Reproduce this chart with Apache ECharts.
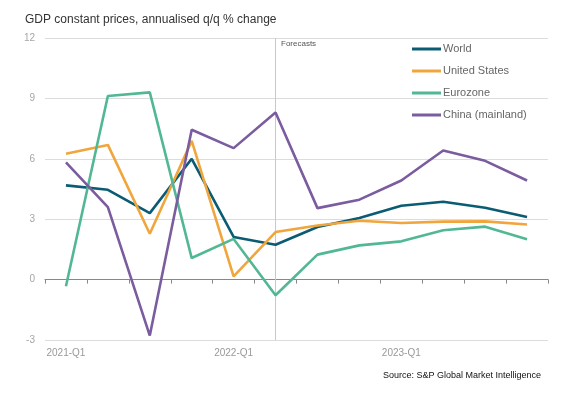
<!DOCTYPE html>
<html>
<head>
<meta charset="utf-8">
<script src="https://cdn.jsdelivr.net/npm/echarts@6/dist/echarts.min.js"></script>
<style>
  html, body { margin: 0; padding: 0; background: #fff; }
  #chart { width: 577px; height: 397px; }
</style>
</head>
<body>
<div id="chart"></div>
<script>
// Quarters shown on the x axis
const quarters = ['2021-Q1', '2021-Q2', '2021-Q3', '2021-Q4',
                  '2022-Q1', '2022-Q2', '2022-Q3', '2022-Q4',
                  '2023-Q1', '2023-Q2', '2023-Q3', '2023-Q4'];

// Annualised q/q % change
const world    = [4.68, 4.46, 3.3, 6.0, 2.12, 1.73, 2.61, 3.06, 3.67, 3.87, 3.57, 3.11];
const us       = [6.25, 6.69, 2.28, 6.89, 0.16, 2.36, 2.69, 2.92, 2.81, 2.88, 2.89, 2.74];
const eurozone = [-0.33, 9.12, 9.3, 1.07, 2.02, -0.78, 1.24, 1.7, 1.9, 2.45, 2.63, 2.0];
const china    = [5.82, 3.6, -2.78, 7.44, 6.53, 8.3, 3.55, 3.97, 4.92, 6.41, 5.9, 4.92];

const forecastStart = '2022-Q2';

const seriesDefs = [
    { name: 'World', data: world, color: '#0a5c73' },
    { name: 'United States', data: us, color: '#f0a63c' },
    { name: 'Eurozone', data: eurozone, color: '#52b894' },
    { name: 'China (mainland)', data: china, color: '#7a5c9f' }
];

const chart = echarts.init(document.getElementById('chart'));

const series = seriesDefs.map((s, i) => {
    const item = {
        name: s.name,
        type: 'line',
        data: s.data,
        symbol: 'none',
        lineStyle: { width: 2.6, color: s.color },
        itemStyle: { color: s.color },
        z: 3
    };
    if (i === 0) {
        item.markLine = {
            silent: true,
            symbol: 'none',
            label: { show: false },
            lineStyle: { color: '#c8c8c8', width: 1, type: 'solid' },
            data: [{ xAxis: forecastStart }],
            z: 1
        };
    }
    return item;
});

chart.setOption({
    animation: false,
    textStyle: { fontFamily: 'Liberation Sans, Arial, sans-serif' },
    title: {
        text: 'GDP constant prices, annualised q/q % change',
        left: 20,
        top: 9,
        textStyle: { fontSize: 12, fontWeight: 'normal', color: '#333' }
    },
    legend: {
        orient: 'vertical',
        left: 412,
        top: 42,
        padding: 0,
        itemWidth: 29,
        itemHeight: 3,
        itemGap: 8,
        icon: 'rect',
        textStyle: { fontSize: 11, color: '#666', padding: [0, 0, 0, -3], lineHeight: 14 },
        data: seriesDefs.map(s => s.name)
    },
    grid: { left: 45, right: 29, top: 38, bottom: 57, outerBoundsMode: 'none', containLabel: false },
    xAxis: [
        {
            // zero line with ticks, no labels
            type: 'category',
            data: quarters,
            boundaryGap: true,
            axisLine: { onZero: true, lineStyle: { color: '#888', width: 1.2 } },
            axisTick: { show: true, interval: 0, length: 4, lineStyle: { color: '#888' } },
            axisLabel: { show: false }
        },
        {
            // labels along the bottom of the plot
            type: 'category',
            data: quarters,
            position: 'bottom',
            boundaryGap: true,
            axisLine: { show: false, onZero: false },
            axisTick: { show: false },
            axisLabel: { interval: 3, color: '#999', fontSize: 10, margin: 8 }
        }
    ],
    yAxis: {
        type: 'value',
        min: -3,
        max: 12,
        interval: 3,
        axisLine: { show: false },
        axisTick: { show: false },
        axisLabel: { color: '#a6a6a6', fontSize: 10, margin: 10 },
        splitLine: { lineStyle: { color: '#dcdcdc', width: 1 } }
    },
    graphic: [
        {
            type: 'text',
            left: 281,
            top: 40,
            style: { text: 'Forecasts', fontSize: 8, fill: '#555', fontFamily: 'Liberation Sans, Arial, sans-serif' }
        },
        {
            type: 'text',
            right: 36,
            top: 371,
            style: { text: 'Source: S&P Global Market Intelligence', fontSize: 9, fill: '#111', fontFamily: 'Liberation Sans, Arial, sans-serif' }
        }
    ],
    series: series
});
</script>
</body>
</html>
